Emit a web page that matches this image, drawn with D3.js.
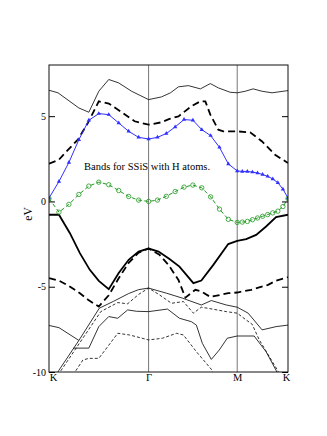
<!DOCTYPE html>
<html>
<head>
<meta charset="utf-8">
<script src="https://cdn.jsdelivr.net/npm/d3@7"></script>
<style>
  body { margin: 0; background: #fff; }
  svg text { font-family: "Liberation Serif", "Times New Roman", Times, serif; fill: #000; }
</style>
</head>
<body>
<div id="band_chart"></div>
<script>
// high symmetry points along the path K - Gamma - M - K
const kLabels = ["K", "\u0393", "M", "K"];
const kTicks = [0, 1, 1.89, 2.4];
const eTicks = [5, 0, -5, -10];

// k points of the calculation (10 steps per segment), used by the marked bands
const kPath = [0, 0.1, 0.2, 0.3, 0.4, 0.5, 0.6, 0.7, 0.8, 0.9, 1,
  1.089, 1.178, 1.267, 1.356, 1.445, 1.534, 1.623, 1.712, 1.801, 1.89,
  1.941, 1.992, 2.043, 2.094, 2.145, 2.196, 2.247, 2.298, 2.349, 2.4];

// band just above the Fermi level (blue, triangles)
const blueBand = [0.2, 1.17, 2.29, 3.62, 4.76, 5.15, 5.09, 4.6, 4.11, 3.76, 3.66,
  3.76, 3.98, 4.37, 4.8, 4.76, 4.21, 3.86, 3.17, 2.2, 1.79,
  1.76, 1.76, 1.72, 1.67, 1.58, 1.47, 1.32, 1.1, 0.72, 0.2];

// band at the Fermi level (green, circles)
const greenBand = [0.17, -0.63, -0.17, 0.41, 0.9, 1.13, 0.98, 0.64, 0.29, 0.08, 0.0,
  0.08, 0.3, 0.58, 0.84, 0.96, 0.8, 0.27, -0.45, -1.05, -1.23,
  -1.21, -1.17, -1.07, -0.97, -0.87, -0.77, -0.67, -0.57, -0.3, 0.17];

// remaining bands as [k, eV]
const topBand = [[0, 6.52], [0.09, 6.37], [0.3, 5.48], [0.4, 5.23], [0.5, 6.46], [0.6, 7.15],
  [0.7, 6.95], [0.83, 6.46], [1, 5.97], [1.13, 6.13], [1.22, 6.37], [1.3, 6.72], [1.4, 6.79],
  [1.52, 6.6], [1.62, 6.91], [1.7, 6.66], [1.82, 6.4], [1.89, 6.37], [1.97, 6.46], [2.05, 6.6],
  [2.14, 6.46], [2.24, 6.37], [2.4, 6.5]];

const upperDashed = [[0, 2.21], [0.1, 2.45], [0.16, 2.84], [0.29, 3.62], [0.39, 4.6], [0.5, 5.87],
  [0.6, 5.74], [0.73, 5.23], [0.86, 4.7], [1, 4.5], [1.13, 4.64], [1.21, 4.84], [1.3, 4.99],
  [1.43, 5.58], [1.52, 5.87], [1.57, 5.87], [1.62, 5.09], [1.7, 4.21], [1.75, 4.11], [1.89, 4.11],
  [2.02, 4.05], [2.14, 3.52], [2.27, 2.74], [2.4, 2.25]];

const valenceTop = [[0, -0.78], [0.1, -0.78], [0.21, -1.86], [0.31, -3.03], [0.41, -4.01],
  [0.5, -4.66], [0.6, -5.14], [0.7, -4.2], [0.8, -3.42], [0.9, -2.94], [1, -2.76], [1.1, -2.94],
  [1.21, -3.37], [1.31, -3.82], [1.45, -4.79], [1.53, -4.64], [1.65, -3.72], [1.8, -2.5],
  [1.89, -2.31], [1.98, -2.21], [2.08, -1.96], [2.18, -1.47], [2.28, -0.92], [2.4, -0.78]];

const lowerDashed = [[0, -4.5], [0.1, -4.64], [0.2, -4.95], [0.31, -5.38], [0.4, -5.8], [0.5, -6.16],
  [0.6, -5.5], [0.7, -4.5], [0.8, -3.6], [0.9, -3.0], [1, -2.76], [1.11, -3.13], [1.2, -3.72],
  [1.3, -4.6], [1.37, -5.64], [1.47, -5.18], [1.53, -5.28], [1.62, -5.6], [1.8, -5.38],
  [1.89, -5.34], [2.03, -5.18], [2.2, -4.89], [2.28, -4.64], [2.4, -4.44]];

const thinSolidA = [[0, -7.27], [0.1, -7.4], [0.3, -8.15]];

const thinSolidB = [[0.07, -10.2], [0.097, -9.92], [0.3, -8.15], [0.505, -6.26], [0.65, -5.85],
  [0.8, -5.4], [0.9, -5.17], [1, -5.08], [1.18, -5.38], [1.34, -5.67], [1.53, -6.07], [1.63, -5.81],
  [1.78, -6.07], [1.89, -6.2], [2.0, -6.55], [2.14, -7.53], [2.28, -7.34], [2.4, -7.25]];

const thinSolidC = [[0.245, -8.6], [0.4, -8.6], [0.5, -7.34], [0.6, -6.75], [0.69, -6.85],
  [0.79, -6.36], [0.88, -6.44], [1, -6.46], [1.19, -6.31], [1.31, -6.85], [1.43, -7.05],
  [1.48, -7.25], [1.54, -8.32], [1.63, -9.26], [1.71, -8.71], [1.79, -8.02], [1.89, -7.89],
  [2.06, -7.89], [2.18, -8.81], [2.28, -9.9], [2.3, -10.2]];

const thinDashedA = [[0.095, -10.2], [0.12, -9.92], [0.52, -6.46], [0.69, -5.93], [0.79, -6.0],
  [0.9, -5.45], [1, -5.08], [1.11, -5.48], [1.23, -5.97], [1.35, -5.87], [1.45, -6.55],
  [1.53, -6.2], [1.65, -6.32], [1.78, -6.46], [1.89, -6.55], [1.98, -6.95], [2.04, -7.2],
  [2.11, -8.1], [2.3, -9.95], [2.32, -10.2]];

const thinDashedB = [[0.25, -10.2], [0.27, -9.92], [0.34, -9.3], [0.4, -9.2], [0.5, -9.2],
  [0.59, -8.51], [0.69, -7.73], [0.81, -7.83], [1, -8.12], [1.14, -8.02], [1.28, -7.73],
  [1.35, -7.83], [1.48, -8.81], [1.63, -9.84], [1.66, -10.2]];

var width = 327,
    height = 436,
    margin = {top: 65, right: 39, bottom: 64, left: 49};
var serif = "'Liberation Serif', 'Times New Roman', Times, serif";

var svg = d3.select("#band_chart")
  .append("svg")
    .attr("width", width)
    .attr("height", height)
    .style("font-family", serif);

var x = d3.scaleLinear().domain([0, 2.4]).range([margin.left, width - margin.right]);
var y = d3.scaleLinear().domain([-10, 8]).range([height - margin.bottom, margin.top]);

svg.append("clipPath").attr("id", "plot_clip")
  .append("rect")
    .attr("x", margin.left).attr("y", margin.top)
    .attr("width", x.range()[1] - x.range()[0])
    .attr("height", y.range()[0] - y.range()[1]);

// vertical lines at Gamma and M
svg.selectAll(".sym")
  .data(kTicks.slice(1, 3))
  .enter().append("line")
    .attr("x1", d => x(d)).attr("x2", d => x(d))
    .attr("y1", y(8)).attr("y2", y(-10))
    .attr("stroke", "#777")
    .attr("stroke-width", 1);

var plot = svg.append("g").attr("clip-path", "url(#plot_clip)");

var line = d3.line()
  .x(d => x(d[0]))
  .y(d => y(d[1]));

// plain black bands: data, width, dash
var bands = [
  [topBand, 0.8, null],
  [upperDashed, 1.8, "7,4"],
  [valenceTop, 1.8, null],
  [lowerDashed, 1.8, "7,4"],
  [thinSolidA, 0.8, null],
  [thinSolidB, 0.8, null],
  [thinSolidC, 0.8, null],
  [thinDashedA, 0.8, "3,2"],
  [thinDashedB, 0.8, "3,2"]
];

bands.forEach(function(b) {
  plot.append("path")
    .datum(b[0])
    .attr("d", line)
    .attr("fill", "none")
    .attr("stroke", "#000")
    .attr("stroke-width", b[1])
    .attr("stroke-dasharray", b[2]);
});

// marked bands
var bluePts = kPath.map((k, i) => [k, blueBand[i]]);
var greenPts = kPath.map((k, i) => [k, greenBand[i]]);

plot.append("path")
  .datum(bluePts)
  .attr("d", line)
  .attr("fill", "none")
  .attr("stroke", "#3030ff")
  .attr("stroke-width", 1);

plot.selectAll(".tri")
  .data(bluePts)
  .enter().append("path")
    .attr("d", d3.symbol().type(d3.symbolTriangle).size(8))
    .attr("transform", d => "translate(" + x(d[0]) + "," + y(d[1]) + ")")
    .attr("fill", "#3030ff");

plot.append("path")
  .datum(greenPts)
  .attr("d", line)
  .attr("fill", "none")
  .attr("stroke", "#229922")
  .attr("stroke-width", 1)
  .attr("stroke-dasharray", "4,2.5");

plot.selectAll(".circ")
  .data(greenPts)
  .enter().append("circle")
    .attr("cx", d => x(d[0]))
    .attr("cy", d => y(d[1]))
    .attr("r", 2.2)
    .attr("fill", "none")
    .attr("stroke", "#229922")
    .attr("stroke-width", 0.8);

// frame
svg.append("rect")
  .attr("x", margin.left).attr("y", margin.top)
  .attr("width", x.range()[1] - x.range()[0])
  .attr("height", y.range()[0] - y.range()[1])
  .attr("fill", "none")
  .attr("stroke", "#111")
  .attr("stroke-width", 1);

// y axes with inward ticks
var yAxis = svg.append("g")
  .attr("transform", "translate(" + margin.left + ",0)")
  .call(d3.axisLeft(y).tickValues(eTicks).tickSize(-6).tickPadding(3).tickFormat(d => String(d)));
yAxis.select(".domain").remove();
yAxis.attr("font-family", serif);
yAxis.selectAll("text").style("font-size", "10px").style("font-family", serif);

var yAxisR = svg.append("g")
  .attr("transform", "translate(" + (width - margin.right) + ",0)")
  .call(d3.axisRight(y).tickValues(eTicks).tickSize(-6).tickFormat(""));
yAxisR.select(".domain").remove();

// k labels
var xAxis = svg.append("g")
  .attr("transform", "translate(0," + (height - margin.bottom) + ")")
  .call(d3.axisBottom(x).tickValues(kTicks).tickSize(0).tickPadding(2).tickFormat((d, i) => kLabels[i]));
xAxis.select(".domain").remove();
xAxis.attr("font-family", serif);
xAxis.selectAll("text")
  .style("font-size", "10.5px")
  .style("font-family", serif)
  .attr("dx", (d, i) => i === 0 ? 4 : (i === kTicks.length - 1 ? -2 : 0));

svg.append("text")
  .attr("transform", "translate(32,214) rotate(-90)")
  .attr("text-anchor", "middle")
  .style("font-family", serif)
  .style("font-size", "11.5px")
  .text("eV");

svg.append("text")
  .attr("x", 84)
  .attr("y", 170)
  .style("font-family", serif)
  .style("font-size", "10.5px")
  .text("Bands for SSiS with H atoms.");
</script>
</body>
</html>
